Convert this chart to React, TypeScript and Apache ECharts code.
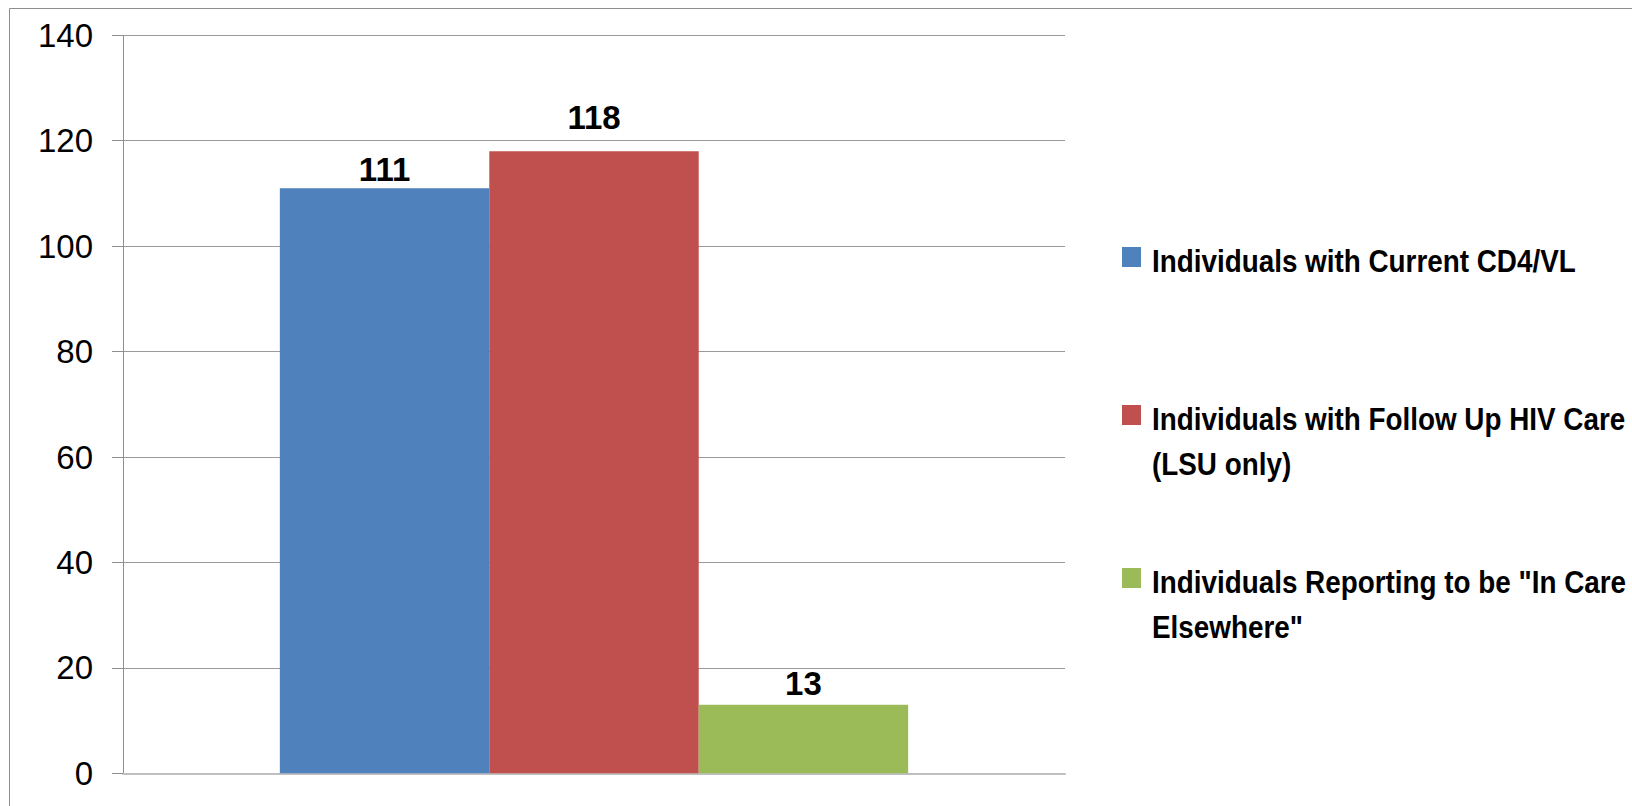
import React, { useEffect, useRef } from "react";
import * as echarts from "echarts";

const categories = [""];
const seriesNames = [
  "Individuals with Current CD4/VL",
  "Individuals with Follow Up HIV Care (LSU only)",
  'Individuals Reporting to be "In Care Elsewhere"',
];
const legendLines = [
  ["Individuals with Current CD4/VL"],
  ["Individuals with Follow Up HIV Care", "(LSU only)"],
  ['Individuals Reporting to be "In Care', 'Elsewhere"'],
];
const values = [111, 118, 13];
const colors = ["#4F81BD", "#C0504D", "#9BBB59"];
const labelDistances = [2, 17, 5];
const yTicks = { min: 0, max: 140, interval: 20 };
const legendCenters = [261, 419, 582];

export default function App() {
  const ref = useRef<HTMLDivElement>(null);
  useEffect(() => {
    const chart = echarts.init(ref.current!, null, { renderer: "svg" });
    const legendFont = "'Liberation Sans', Arial, sans-serif";
    const graphic: any[] = [
      {
        type: "rect",
        shape: { x: 9.5, y: 8.5, width: 1700, height: 900 },
        style: { fill: "none", stroke: "#8e8e8e", lineWidth: 1 },
        silent: true,
      },
    ];
    legendLines.forEach((lines, i) => {
      const cy = legendCenters[i];
      graphic.push({
        type: "rect",
        shape: { x: 1122, y: cy - 14, width: 19, height: 20 },
        style: { fill: colors[i] },
      });
      graphic.push({
        type: "text",
        x: 1152,
        y: cy - 22.5,
        scaleX: 0.87,
        scaleY: 1,
        style: {
          text: lines.join("\n"),
          font: `bold 32px ${legendFont}`,
          fill: "#000",
          lineHeight: 45,
          verticalAlign: "top",
          align: "left",
        },
      });
    });
    chart.setOption({
      animation: false,
      backgroundColor: "#fff",
      grid: { left: 123, right: 567, top: 35.3, bottom: 32.7, containLabel: false },
      xAxis: {
        type: "category",
        data: categories,
        axisLine: { show: true, lineStyle: { color: "#bfbfbf", width: 2 } },
        axisTick: { show: false },
        axisLabel: { show: false },
        splitLine: { show: false },
      },
      yAxis: {
        type: "value",
        min: yTicks.min,
        max: yTicks.max,
        interval: yTicks.interval,
        axisLine: { show: true, lineStyle: { color: "#8e8e8e", width: 1 } },
        axisTick: { show: true, length: 11, lineStyle: { color: "#8e8e8e" } },
        axisLabel: {
          margin: 30,
          color: "#000",
          fontSize: 33,
          fontFamily: "'Liberation Sans', sans-serif",
          padding: [10, 0, 0, 0],
        },
        splitLine: { show: true, lineStyle: { color: "#9a9a9a", width: 1 } },
      },
      series: seriesNames.map((name, i) => ({
        name,
        type: "bar",
        data: [values[i]],
        barGap: "0%",
        barCategoryGap: "33.3%",
        itemStyle: { color: colors[i] },
        label: {
          show: true,
          position: "top",
          distance: labelDistances[i],
          color: "#000",
          fontSize: 33,
          fontWeight: "bold",
          fontFamily: "'Liberation Sans', sans-serif",
        },
      })),
      graphic,
    });
    return () => chart.dispose();
  }, []);
  return (
    <div
      ref={ref}
      style={{ position: "fixed", left: 0, top: 0, width: 1632, height: 806 }}
    />
  );
}
